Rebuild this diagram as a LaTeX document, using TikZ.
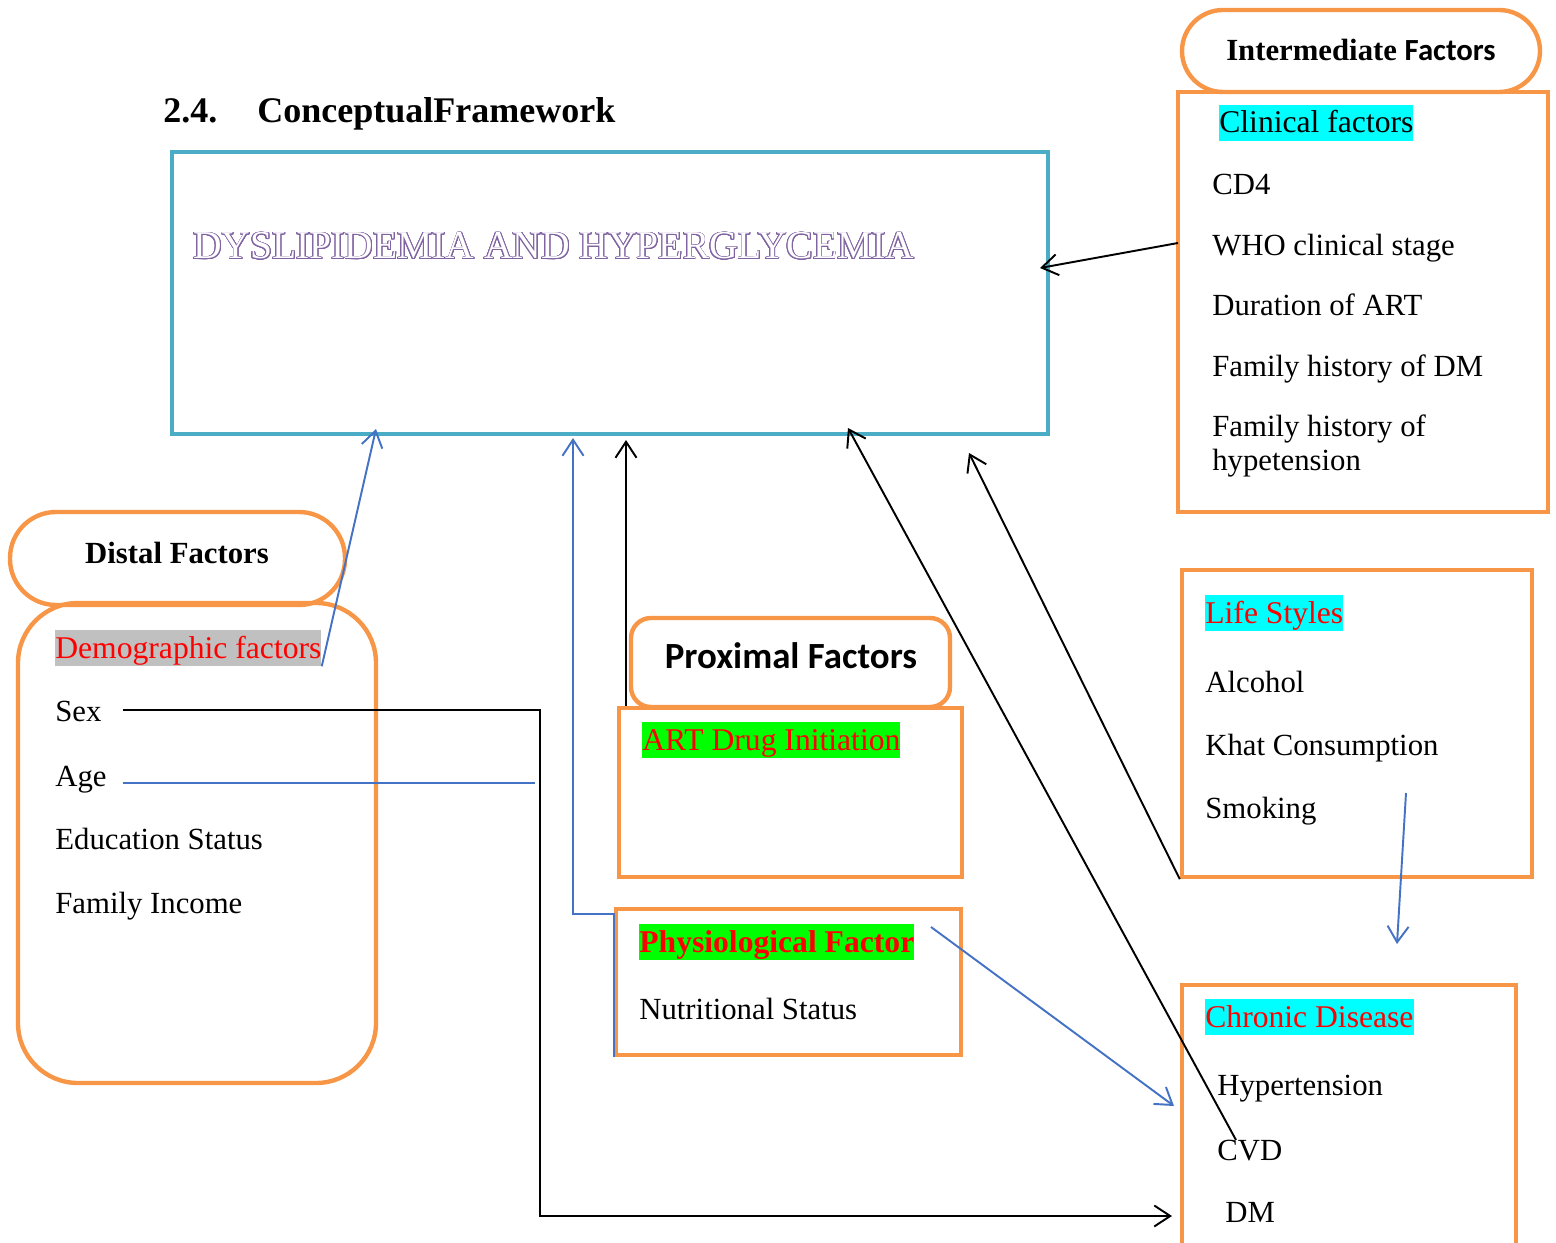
\documentclass[tikz,border=0pt]{standalone}
\usepackage{fontspec}
\setmainfont{Liberation Serif}
\newfontfamily\calibri{Carlito}
\usepackage{xcolor}
\usepackage{contour}
\usetikzlibrary{positioning,arrows.meta,fit,calc}
\definecolor{accorange}{HTML}{F79646}
\definecolor{accteal}{HTML}{4BACC6}
\definecolor{accblue}{HTML}{4472C4}
\definecolor{accpurple}{HTML}{8064A2}
\definecolor{hlcyan}{HTML}{00FFFF}
\definecolor{hlgreen}{HTML}{00FF00}
\definecolor{hlgrey}{HTML}{C0C0C0}
\contourlength{0.5pt}
\contournumber{24}
\newcommand{\itemfont}{\fontsize{17.5}{19.5}\selectfont}
\newcommand{\hlfont}{\fontsize{18}{20}\selectfont}
\tikzset{
  obox/.style={rectangle, draw=accorange, line width=2.5pt, inner sep=0pt},
  tbox/.style={rectangle, draw=accteal, line width=2.3pt, inner sep=0pt},
  itm/.style={font=\itemfont, inner sep=0pt, anchor=base west, align=left},
  hl/.style={itm, font=\hlfont, fill=#1, text height=16pt, text depth=4.5pt},
  hdr/.style={font=\fontsize{17.5}{20}\selectfont\bfseries, inner sep=0pt, anchor=base},
  ar/.style={-{Straight Barb[length=3.2mm,width=4.2mm]}, line width=1.1pt, draw=black},
  arb/.style={-{Straight Barb[length=3.2mm,width=4.2mm]}, line width=1.1pt, draw=accblue},
}

\begin{document}
\begin{tikzpicture}[x=0.02cm, y=-0.02cm]
  \useasboundingbox (0,0) rectangle (1556,1243);

  \node[font=\fontsize{20.5}{23}\selectfont\bfseries, inner sep=0pt, anchor=base west]
    (ttl) at (163,123) {2.4.\hspace{0.8cm}ConceptualFramework};

  \node[tbox, fit={(172,152) (1048,434)}] (dys) {};
  \node[itm, font=\fontsize{22.5}{26}\selectfont] (dysT) at (193,259)
    {\contour{accpurple}{\textcolor{white}{DYSLIPIDEMIA AND HYPERGLYCEMIA}}};

  \node[obox, rounded corners=0.82cm, fit={(1182,10) (1540,92)}] (inter) {};
  \node[hdr] (interT) at (1361,61) {Intermediate {\calibri Factors}};
  \node[obox, fit={(1178,92) (1548,512)}] (clin) {};
  \node[hl=hlcyan] (clinT) at (1219,133) {Clinical factors};
  \node[itm] (cd4) at (1212,195) {CD4};
  \node[itm] (who) at (1212,256) {WHO clinical stage};
  \node[itm] (dur) at (1212,316) {Duration of ART};
  \node[itm] (fhdm) at (1212,377) {Family history of DM};
  \node[itm] (fhht) at (1212,471) {Family history of\\hypetension};

  \node[obox, rounded corners=0.92cm, fit={(10,512) (345,605)}] (distH) {};
  \node[hdr] (distT) at (177,563) {Distal Factors};
  \node[obox, rounded corners=1.2cm, fit={(18,603) (376,1083)}] (dist) {};
  \node[hl=hlgrey, text=red] (demo) at (55,658) {Demographic factors};
  \node[itm] (sex) at (55,721) {Sex};
  \node[itm] (age) at (55,786) {Age};
  \node[itm] (edu) at (55,849) {Education Status};
  \node[itm] (inc) at (55,913) {Family Income};

  \node[obox, rounded corners=0.4cm, fit={(631,618) (950,707)}] (proxH) {};
  \node[hdr, font=\fontsize{21}{24}\selectfont\bfseries\calibri] (proxT) at (791,668) {Proximal Factors};
  \node[obox, fit={(619,708) (962,877)}] (art) {};
  \node[hl=hlgreen, text=red] (artT) at (642,750) {ART Drug Initiation};
  \node[obox, fit={(616,909) (961,1055)}] (phys) {};
  \node[hl=hlgreen, text=red, font=\hlfont\bfseries] (physT) at (639,952) {Physiological Factor};
  \node[itm] (nutr) at (639,1019) {Nutritional Status};

  \node[obox, fit={(1182,570) (1532,877)}] (life) {};
  \node[hl=hlcyan, text=red] (lifeT) at (1205,623) {Life Styles};
  \node[itm] (alc) at (1205,692) {Alcohol};
  \node[itm] (khat) at (1205,755) {Khat Consumption};
  \node[itm] (smk) at (1205,818) {Smoking};

  \node[obox, fit={(1182,985) (1516,1252)}] (chron) {};
  \node[hl=hlcyan, text=red] (chronT) at (1205,1027) {Chronic Disease};
  \node[itm] (hyp) at (1217,1095) {Hypertension};
  \node[itm] (cvd) at (1217,1160) {CVD};
  \node[itm] (dm) at (1225,1222) {DM};

  \coordinate (dysA) at (376,429);
  \coordinate (dysB) at (573,438);
  \coordinate (dysC) at (626,440);
  \coordinate (dysD) at (848,428);
  \coordinate (dysE) at (969,453);
  \coordinate (dysF) at (1040,268);
  \coordinate (clinOut) at (1178,243);
  \coordinate (sexOut) at (123,710);
  \coordinate (ageOut) at (123,783);
  \coordinate (ageEnd) at (535,783);
  \coordinate (chronDM) at (1172,1216);
  \coordinate (physOut) at (931,927);
  \coordinate (chronIn) at (1174,1106);
  \coordinate (cvdOut) at (1236,1140);
  \coordinate (smkOut) at (1406,793);
  \coordinate (chronTop) at (1397,944);

  \draw[ar] (clinOut) -- (dysF);
  \draw[arb] (demo.south east) -- (dysA);
  \draw[ar] (sexOut) -- ++(417,0) |- (chronDM);
  \draw[accblue, line width=1.1pt] (ageOut) -- (ageEnd);
  \draw[arb] (phys.south west) -- ++(0,-143) -| (dysB);
  \draw[ar] (art.north west -| dysC) -- (dysC);
  \draw[arb] (physOut) -- (chronIn);
  \draw[ar] (life.south west) -- (dysE);
  \draw[ar] (cvdOut) -- (dysD);
  \draw[arb] (smkOut) -- (chronTop);
\end{tikzpicture}
\end{document}
